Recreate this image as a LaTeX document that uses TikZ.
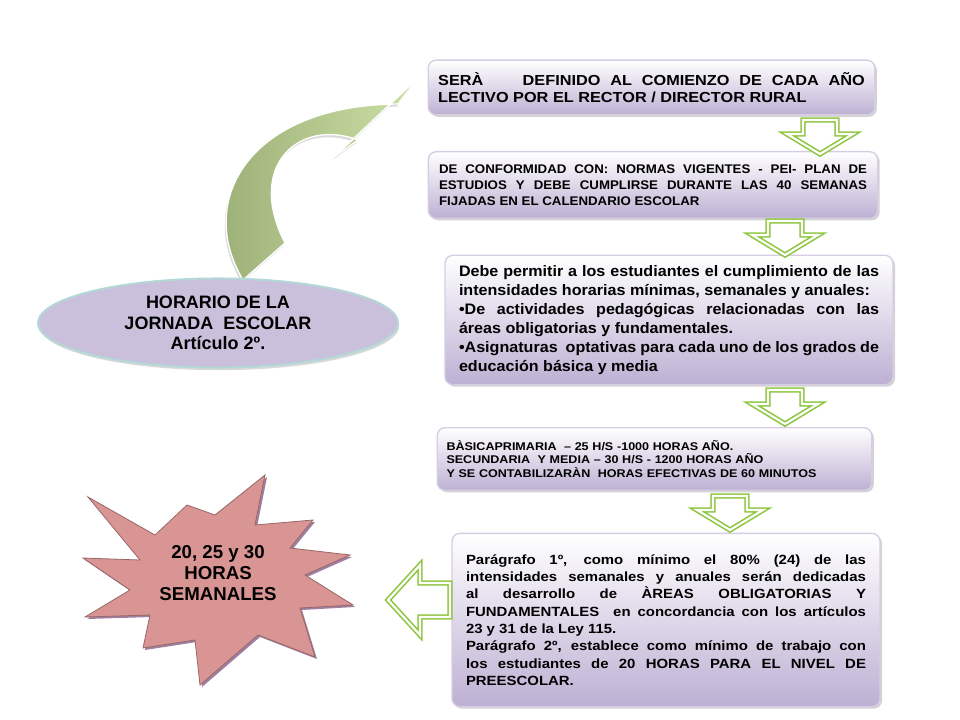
\documentclass[tikz,border=0pt]{standalone}
\usepackage{fontspec}
\setmainfont{Liberation Sans}
\newfontfamily\wa[FakeStretch=1.06]{Liberation Sans}
\newfontfamily\wb[FakeStretch=1.12]{Liberation Sans}
\usetikzlibrary{shadows,shapes.geometric}
\definecolor{lav}{HTML}{BDB0D3}
\definecolor{lavb}{HTML}{D6CDE4}
\definecolor{grn}{HTML}{8DC63F}
\definecolor{star}{HTML}{D99594}
\hyphenpenalty=10000
\tikzset{
 pbox/.style={rounded corners=6pt, top color=white, bottom color=lav, draw=lavb, line width=1pt,
   drop shadow={shadow xshift=1.5pt,shadow yshift=-1.5pt,opacity=0.35}, font=\bfseries, align=justify, inner sep=0pt},
 harrow/.style={draw=grn, line width=1.2pt, double=white, double distance=1.6pt, fill=white},
}
\newcommand{\downarr}[2]{\path[harrow] (#1-17,#2) -- (#1+17,#2) -- (#1+17,#2+14) -- (#1+33,#2+14) -- (#1,#2+34) -- (#1-33,#2+14) -- (#1-17,#2+14) -- cycle;}
\begin{document}
\begin{tikzpicture}[x=0.75pt,y=-0.75pt]
\useasboundingbox (0,0) rectangle (960,720);
% curved arrow
\path[left color={rgb,255:red,150;green,170;blue,115}, right color={rgb,255:red,205;green,225;blue,165}, draw=white, line width=1pt,
 drop shadow={shadow xshift=-1pt,shadow yshift=-2pt,opacity=0.3}]
 (243,280) .. controls (195,200) and (250,105) .. (398,104) -- (418,78) -- (333,158) -- (358,140)
 .. controls (300,118) and (245,165) .. (285,243) -- cycle;
% ellipse
\node[ellipse, minimum width=270pt, minimum height=66pt, fill={rgb,255:red,202;green,192;blue,220}, draw={rgb,255:red,180;green,215;blue,215}, line width=1.5pt,
 drop shadow={shadow xshift=1pt,shadow yshift=-2pt,opacity=0.3}, align=center, font=\bfseries\fontsize{13.5}{15.5}\selectfont] (ell) at (218,323)
 {HORARIO DE LA\\JORNADA\ \ ESCOLAR\\Artículo 2º.};
% star
\path[fill=star, draw=star!70!black, line width=0.6pt, drop shadow={shadow xshift=1.5pt,shadow yshift=-1.5pt,opacity=0.5,fill=violet!50!black}]
 (88,497) -- (155,535) -- (187,505) -- (215,515) -- (265,475) -- (255,525) -- (313,520) -- (290,548) -- (350,555) -- (305,575)
 -- (353,605) -- (300,608) -- (315,657) -- (258,635) -- (200,685) -- (195,640) -- (143,648) -- (150,615) -- (85,617) -- (130,590)
 -- (83,558) -- (140,560) -- cycle;
\node[align=center, font=\bfseries\fontsize{14}{16}\selectfont] (st) at (218,573) {20, 25 y 30\\HORAS\\SEMANALES};
% boxes
\node[pbox, minimum width=335pt, minimum height=41pt, text width=320pt, font=\wb\bfseries\fontsize{10.9}{13}\selectfont] (b1) at (651.5,87.5)
 {SERÀ\ \ \ \ DEFINIDO AL COMIENZO DE CADA AÑO LECTIVO POR EL RECTOR / DIRECTOR RURAL};
\node[pbox, minimum width=337pt, minimum height=50pt, text width=321pt, font=\wa\bfseries\fontsize{9.4}{12}\selectfont] (b2) at (653,185)
 {DE CONFORMIDAD CON: NORMAS VIGENTES - PEI- PLAN DE ESTUDIOS Y DEBE CUMPLIRSE DURANTE LAS 40 SEMANAS FIJADAS EN EL CALENDARIO ESCOLAR};
\node[pbox, minimum width=336pt, minimum height=97pt, text width=315pt, font=\wa\bfseries\fontsize{11.4}{14.3}\selectfont] (b3) at (669,320)
 {Debe permitir a los estudiantes el cumplimiento de las intensidades horarias mínimas, semanales y anuales:\\
 •De actividades pedagógicas relacionadas con las áreas obligatorias y fundamentales.\\
 •Asignaturas\ \ optativas para cada uno de los grados de educación\ básica y media};
\node[pbox, minimum width=326pt, minimum height=47pt, text width=312pt, align=left, font=\wb\bfseries\fontsize{8.4}{10.3}\selectfont] (b4) at (654.5,459)
 {BÀSICAPRIMARIA\ \ – 25 H/S -1000 HORAS AÑO.\\SECUNDARIA\ \ Y MEDIA – 30 H/S - 1200 HORAS AÑO\\Y SE CONTABILIZARÀN\ \ HORAS EFECTIVAS DE 60 MINUTOS};
\node[pbox, minimum width=321pt, minimum height=130pt, text width=300pt, font=\wb\bfseries\fontsize{10}{13}\selectfont] (b5) at (666,620)
 {Parágrafo 1º, como mínimo el 80\% (24) de las intensidades semanales y anuales serán dedicadas al desarrollo de ÀREAS OBLIGATORIAS Y FUNDAMENTALES\ \ en concordancia con los artículos 23 y 31 de la Ley 115.\\
 Parágrafo 2º, establece como mínimo de trabajo con los estudiantes de 20 HORAS PARA\ EL NIVEL DE PREESCOLAR.};
% arrows
\downarr{820}{120}
\downarr{785}{221}
\downarr{785}{390}
\downarr{730}{496}
\path[harrow] (450,583) -- (450,617) -- (420,617) -- (420,635) -- (388,600) -- (420,565) -- (420,583) -- cycle;
\end{tikzpicture}
\end{document}
